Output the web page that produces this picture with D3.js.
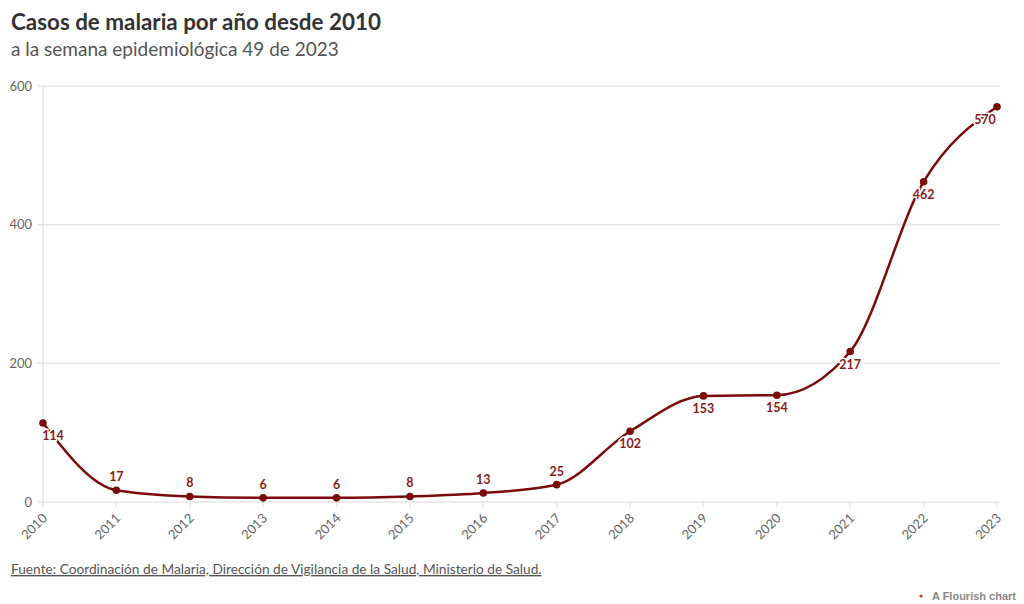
<!DOCTYPE html>
<html><head><meta charset="utf-8">
<script src="https://cdn.jsdelivr.net/npm/d3@7"></script>
<style>
body{margin:0;background:#fff;font-family:"Source Sans Pro",Lato,"Noto Sans",sans-serif;}
</style></head>
<body><svg id="c" width="1024" height="604"></svg>
<script>
const years = [2010,2011,2012,2013,2014,2015,2016,2017,2018,2019,2020,2021,2022,2023];
const cases = [114,17,8,6,6,8,13,25,102,153,154,217,462,570];
const labelBelow = [true,false,false,false,false,false,false,false,true,true,true,true,true,true];
const yTicks = [0,200,400,600];

const svg = d3.select("#c");
const x = d3.scaleLinear().domain([2010,2023]).range([43,997]);
const y = d3.scaleLinear().domain([0,600]).range([502,86]);
const red = "#7b0a0a";

svg.append("text").attr("x",11).attr("y",30).attr("font-size",22.4).attr("font-weight",700).attr("fill","#333")
  .text("Casos de malaria por año desde 2010");
svg.append("text").attr("x",11).attr("y",56).attr("font-size",19).attr("fill","#555")
  .text("a la semana epidemiológica 49 de 2023");

// grid
const g = svg.append("g");
g.selectAll("line.grid").data(yTicks).join("line")
  .attr("x1",37).attr("x2",1000).attr("y1",d=>y(d)).attr("y2",d=>y(d))
  .attr("stroke","#e6e6e6").attr("stroke-width",1.5);
g.selectAll("text.yt").data(yTicks).join("text")
  .attr("x",32).attr("y",d=>y(d)+4.5).attr("text-anchor","end").attr("font-size",13).attr("fill","#666")
  .text(d=>d);
g.append("line").attr("x1",x(2010)).attr("x2",x(2010)).attr("y1",y(600)).attr("y2",y(0)+5)
  .attr("stroke","#e6e6e6").attr("stroke-width",1.5);
// x ticks
g.selectAll("line.xt").data(years).join("line")
  .attr("x1",d=>x(d)).attr("x2",d=>x(d)).attr("y1",y(0)).attr("y2",y(0)+5)
  .attr("stroke","#e6e6e6").attr("stroke-width",1.5);
g.selectAll("text.xt").data(years).join("text")
  .attr("transform",d=>`translate(${x(d)+5},${y(0)+17}) rotate(-45)`)
  .attr("text-anchor","end").attr("font-size",13).attr("fill","#666")
  .text(d=>d);

// line
const data = years.map((yr,i)=>({yr,v:cases[i],below:labelBelow[i]}));
svg.append("path").datum(data)
  .attr("d",d3.line().x(d=>x(d.yr)).y(d=>y(d.v)).curve(d3.curveMonotoneX))
  .attr("fill","none").attr("stroke",red).attr("stroke-width",2.5);
svg.selectAll("circle.pt").data(data).join("circle")
  .attr("cx",d=>x(d.yr)).attr("cy",d=>y(d.v)).attr("r",3.8).attr("fill",red);
// labels
svg.selectAll("text.lab").data(data).join("text")
  .attr("x",(d,i)=>x(d.yr)+(i===0?10:(i===years.length-1?-12:0)))
  .attr("y",d=>d.below?y(d.v)+17:y(d.v)-9)
  .attr("text-anchor","middle").attr("font-size",12.5).attr("font-weight",700)
  .attr("fill","#8b1a1a").attr("stroke","#fff").attr("stroke-width",3).attr("paint-order","stroke")
  .text(d=>d.v);

// source
svg.append("text").attr("x",11).attr("y",574).attr("font-size",13.7).attr("fill","#555")
  .attr("text-decoration","underline")
  .text("Fuente: Coordinación de Malaria, Dirección de Vigilancia de la Salud, Ministerio de Salud.");
svg.append("circle").attr("cx",921).attr("cy",596).attr("r",1.6).attr("fill","#d33");
svg.append("text").attr("x",1016).attr("y",600).attr("text-anchor","end")
  .attr("font-family","Liberation Sans, Arial, sans-serif").attr("font-size",11).attr("font-weight",700).attr("fill","#888")
  .text("A Flourish chart");
</script></body></html>
